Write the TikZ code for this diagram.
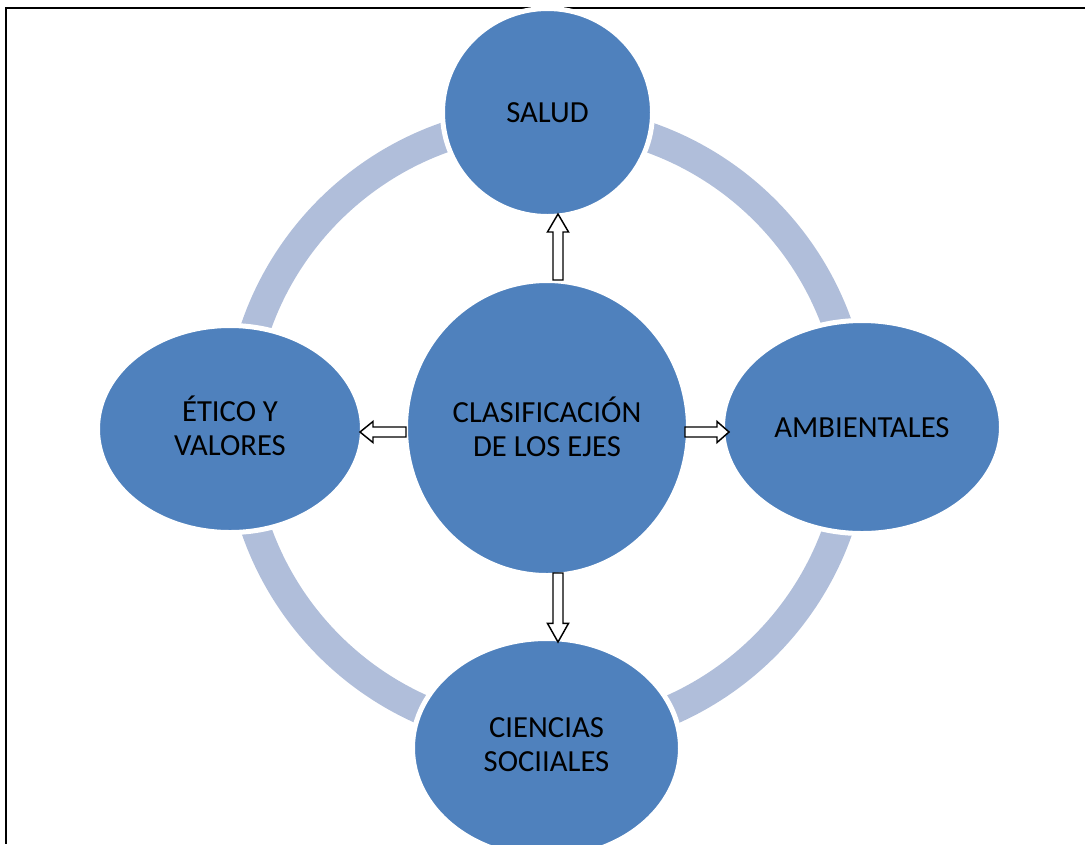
\documentclass[tikz,border=0pt]{standalone}
\usepackage{fontspec}
\setmainfont{Carlito}
\usetikzlibrary{shapes.geometric,calc}
\definecolor{nodeblue}{RGB}{79,129,189}
\definecolor{ringblue}{RGB}{176,190,218}
\begin{document}
\begin{tikzpicture}[x=0.75pt,y=-0.75pt,
  bub/.style={ellipse, fill=nodeblue, draw=white, line width=3.75pt, inner sep=0pt, outer sep=0pt},
  bubtext/.style={align=center, text=black, inner sep=0pt, font=\fontsize{23}{25.5}\selectfont},
  head len/.code={\def\arrhl{#1}},
  head len=9,
  blockarrow/.style={draw=black, fill=white, line width=1.1pt, line join=miter,
    to path={let \p1=(\tikztostart), \p2=(\tikztotarget),
      \n1={veclen(\x2-\x1,\y2-\y1)}, \n2={atan2(\y2-\y1,\x2-\x1)}, \n3={\n1-\arrhl} in
      ($(\p1)+({\n2+90}:3.75pt)$) -- ($(\p1)+({\n2}:{\n3*1pt})+({\n2+90}:3.75pt)$)
      -- ($(\p1)+({\n2}:{\n3*1pt})+({\n2+90}:7.9pt)$) -- (\p2)
      -- ($(\p1)+({\n2}:{\n3*1pt})+({\n2-90}:7.9pt)$) -- ($(\p1)+({\n2}:{\n3*1pt})+({\n2-90}:3.75pt)$)
      -- ($(\p1)+({\n2-90}:3.75pt)$) -- cycle}},
  frame/.style={draw=black, line width=1.3pt},
  ring/.style={draw=ringblue, line width=22.5pt}
]
\useasboundingbox (0,0) rectangle (1085,844);
% frame
\coordinate (fr1) at (1085,8);
\coordinate (fr2) at (6,844);
\draw[frame] (fr1) -| (fr2);
% ring
\coordinate (rc) at (547,428);
\draw[ring] (rc) circle[radius=308];
% nodes
\node[bub, minimum width=212.25pt, minimum height=221.25pt] (c) at (547,428) {};
\node[bub, minimum width=157.5pt, minimum height=156pt] (salud) at (547.5,112.5) {};
\node[bub, minimum width=198.75pt, minimum height=155.25pt] (etico) at (230,429) {};
\node[bub, minimum width=209.25pt, minimum height=159.75pt] (amb) at (862,427) {};
\node[bub, minimum width=201pt, minimum height=164.25pt] (cien) at (546.5,748) {};
% texts
\node[bubtext] (ct) at ($(c)+(0,-1)$) {CLASIFICACIÓN\\DE LOS EJES};
\node[bubtext] (st) at ($(salud)+(0,0)$) {SALUD};
\node[bubtext] (et) at ($(etico)+(0,-3.5)$) {ÉTICO Y\\VALORES};
\node[bubtext] (at) at ($(amb)+(0,1)$) {AMBIENTALES};
\node[bubtext] (cit) at ($(cien)+(0,-3)$) {CIENCIAS\\SOCIIALES};
% arrow ends
\coordinate (up1) at ($(c.north)+(11,-0.5)$);
\coordinate (up2) at ($(salud.south)+(10.5,-2.5)$);
\coordinate (dn1) at ($(c.south)+(11,-2.5)$);
\coordinate (dn2) at ($(cien.north)+(11.5,3.5)$);
\coordinate (lf1) at ($(c.west)+(0.5,4)$);
\coordinate (lf2) at ($(etico.east)+(-2.5,3)$);
\coordinate (rt1) at ($(c.east)+(-3.5,4)$);
\coordinate (rt2) at ($(amb.west)+(6.5,5)$);
\draw[blockarrow, head len=13.5] (up1) to (up2);
\draw[blockarrow, head len=14] (dn1) to (dn2);
\draw[blockarrow, head len=9.75] (lf1) to (lf2);
\draw[blockarrow, head len=9] (rt1) to (rt2);
\end{tikzpicture}
\end{document}
